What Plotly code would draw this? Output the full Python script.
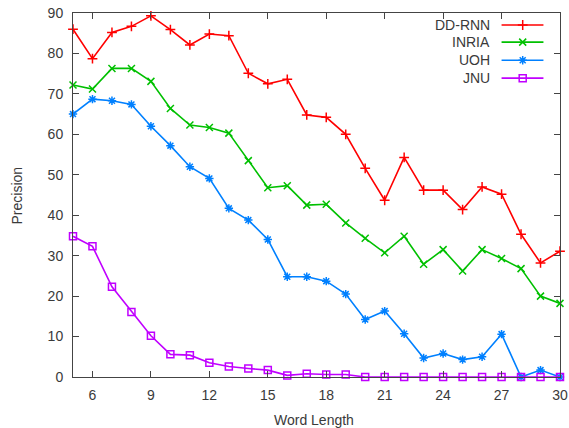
import plotly.graph_objects as go

word_length = list(range(5, 31))
dd_rnn = [86.0, 78.7, 85.2, 86.7, 89.3, 85.9, 82.1, 84.8, 84.4, 75.1, 72.5, 73.6, 64.8,
          64.2, 60.0, 51.6, 43.7, 54.3, 46.2, 46.2, 41.4, 47.0, 45.2, 35.3, 28.2, 31.1]
inria = [72.2, 71.2, 76.3, 76.3, 73.1, 66.4, 62.3, 61.7, 60.3, 53.5, 46.8, 47.3, 42.5,
         42.7, 38.1, 34.3, 30.7, 34.8, 27.9, 31.5, 26.2, 31.5, 29.3, 26.8, 20.0, 18.2]
uoh = [65.0, 68.7, 68.3, 67.4, 62.0, 57.2, 52.0, 49.1, 41.7, 38.8, 34.0, 24.8, 24.8,
       23.7, 20.5, 14.2, 16.3, 10.7, 4.7, 5.8, 4.3, 5.0, 10.6, 0.0, 1.7, 0.0]
jnu = [34.8, 32.3, 22.3, 16.1, 10.2, 5.6, 5.4, 3.5, 2.6, 2.1, 1.7, 0.4, 0.8,
       0.6, 0.6, 0.0, 0.0, 0.0, 0.0, 0.0, 0.0, 0.0, 0.0, 0.0, 0.0, 0.0]

series_names = ["DD-RNN", "INRIA", "UOH", "JNU"]
series_values = [dd_rnn, inria, uoh, jnu]
colors = ["#ff0000", "#00c000", "#0080ff", "#c000ff"]
symbols = ["cross-thin", "x-thin", "asterisk", "square-open"]
x_ticks = [6, 9, 12, 15, 18, 21, 24, 27, 30]
y_ticks = list(range(0, 91, 10))

font = "Liberation Sans, Arial, sans-serif"
txt_color = "#3a3a3a"
fig = go.Figure()
for name, vals, c, s in zip(series_names, series_values, colors, symbols):
    fig.add_trace(go.Scatter(
        x=word_length, y=vals, mode="lines+markers", name=name,
        line=dict(color=c, width=1.6),
        marker=dict(symbol=s, size=7, color=c, line=dict(color=c, width=1.5)),
        showlegend=False, cliponaxis=False))

# custom gnuplot-style legend (text right-aligned, sample on the right)
leg_y = [0.967, 0.920, 0.870, 0.821]
for i, (name, c, s) in enumerate(zip(series_names, colors, symbols)):
    fig.add_trace(go.Scatter(
        x=[0.880, 0.966], y=[leg_y[i]] * 2,
        mode="lines", line=dict(color=c, width=1.6), xaxis="x2", yaxis="y2",
        showlegend=False, hoverinfo="skip"))
    fig.add_trace(go.Scatter(
        x=[0.9234], y=[leg_y[i]], mode="markers", xaxis="x2", yaxis="y2",
        marker=dict(symbol=s, size=7, color=c, line=dict(color=c, width=1.5)),
        showlegend=False, hoverinfo="skip"))
    fig.add_annotation(x=0.861, y=leg_y[i], xref="x2 domain", yref="y2",
                       text=name, showarrow=False, xanchor="right", yanchor="middle",
                       font=dict(family=font, size=14, color=txt_color))

# axis titles
fig.add_annotation(x=0.495, y=-0.118, xref="paper", yref="paper", text="Word Length",
                   showarrow=False, xanchor="center", yanchor="middle",
                   font=dict(family=font, size=14, color=txt_color))
fig.add_annotation(x=-0.114, y=0.5, xref="paper", yref="paper", text="Precision",
                   showarrow=False, xanchor="center", yanchor="middle", textangle=-90,
                   font=dict(family=font, size=14, color=txt_color))

axis_common = dict(showline=True, linecolor="#444444", linewidth=1, mirror="ticks",
                   ticks="inside", ticklen=6, tickcolor="#444444", showgrid=False,
                   zeroline=False, automargin=False,
                   tickfont=dict(family=font, size=14, color=txt_color))

fig.update_layout(
    width=569, height=428,
    margin=dict(l=73, r=9, t=13, b=51),
    paper_bgcolor="white", plot_bgcolor="white",
    xaxis=dict(range=[5, 30], tickvals=x_ticks, ticklabelstandoff=5, **axis_common),
    yaxis=dict(range=[0, 90], tickvals=y_ticks, ticklabelstandoff=6, **axis_common),
    xaxis2=dict(overlaying="x", range=[0, 1], visible=False),
    yaxis2=dict(overlaying="y", range=[0, 1], visible=False),
)

fig.write_html("out.html")
